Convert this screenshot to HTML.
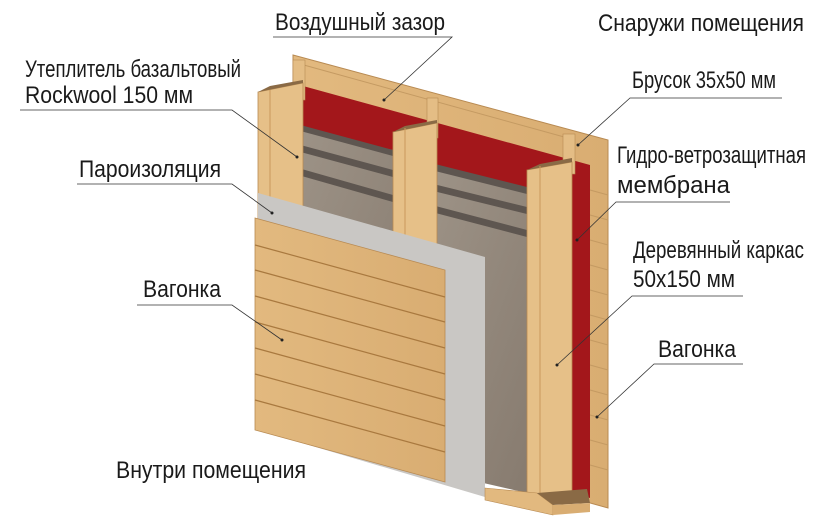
<!DOCTYPE html>
<html><head><meta charset="utf-8"><style>
html,body{margin:0;padding:0;background:#fff;}
svg{display:block;}
text{font-family:"Liberation Sans","DejaVu Sans",sans-serif;font-size:24px;fill:#1a1a1a;}
</style></head><body>
<svg width="830" height="519" viewBox="0 0 830 519" xmlns="http://www.w3.org/2000/svg">
<defs>
<linearGradient id="wood" x1="0" y1="0" x2="1" y2="0">
<stop offset="0" stop-color="#e2b97f"/><stop offset="1" stop-color="#d9ad72"/></linearGradient>
<linearGradient id="ins" x1="0" y1="0" x2="1" y2="1">
<stop offset="0" stop-color="#a0968a"/><stop offset="1" stop-color="#877b6f"/></linearGradient>
</defs>
<polygon points="293,55 608,140 608,508 293,420" fill="url(#wood)" stroke="#b88a52" stroke-width="1"/>
<g stroke="#c49a62" stroke-width="1">
<line x1="590" y1="190" x2="608" y2="195"/><line x1="590" y1="215" x2="608" y2="220"/>
<line x1="590" y1="240" x2="608" y2="245"/><line x1="590" y1="265" x2="608" y2="270"/>
<line x1="590" y1="290" x2="608" y2="295"/><line x1="590" y1="315" x2="608" y2="320"/>
<line x1="590" y1="340" x2="608" y2="345"/><line x1="590" y1="365" x2="608" y2="370"/>
<line x1="590" y1="390" x2="608" y2="395"/><line x1="590" y1="415" x2="608" y2="420"/>
<line x1="590" y1="440" x2="608" y2="445"/><line x1="590" y1="465" x2="608" y2="470"/>
</g>
<line x1="293" y1="62" x2="575" y2="140" stroke="#c49a62"/>
<polygon points="303,86 590,165 590,498 303,420" fill="#a3171b"/>
<rect x="293" y="60" width="12" height="40" fill="#e4bd85" stroke="#b88a52" stroke-width="0.6"/>
<rect x="427" y="98" width="11" height="40" fill="#e4bd85" stroke="#b88a52" stroke-width="0.6"/>
<rect x="563" y="134" width="12" height="40" fill="#e4bd85" stroke="#b88a52" stroke-width="0.6"/>
<polygon points="270,123 393,150 393,450 270,420" fill="url(#ins)"/>
<polygon points="293,123 393,150 393,156 293,129" fill="#5e5650"/>
<polygon points="282,140 393,170 393,177 282,147" fill="#5e5650"/>
<polygon points="270,160 393,195 393,202 270,167" fill="#5e5650"/>
<polygon points="405,160 527,188 527,493 405,465" fill="url(#ins)"/>
<polygon points="427,162 527,187 527,194 427,169" fill="#5e5650"/>
<polygon points="417,180 527,207 527,214 417,187" fill="#5e5650"/>
<polygon points="405,198 527,230 527,237 405,205" fill="#5e5650"/>
<polygon points="258,92 303,83 303,260 258,250" fill="#e6c088" stroke="#b88a52" stroke-width="0.8"/>
<polygon points="258,92 270,86 303,80 303,83" fill="#8a6a45"/>
<line x1="270" y1="90" x2="270" y2="255" stroke="#c9995c"/>
<polygon points="393,132 437,123 437,300 393,300" fill="#e6c088" stroke="#b88a52" stroke-width="0.8"/>
<polygon points="393,132 405,126 437,120 437,123" fill="#8a6a45"/>
<line x1="405" y1="128" x2="405" y2="300" stroke="#c9995c"/>
<polygon points="527,170 572,162 572,500 527,495" fill="#e6c088" stroke="#b88a52" stroke-width="0.8"/>
<polygon points="527,170 540,164 572,158 572,162" fill="#8a6a45"/>
<line x1="540" y1="166" x2="540" y2="497" stroke="#c9995c"/>
<polygon points="258,193 485,257 485,497 258,430" fill="#c9c7c4"/>
<polygon points="255,218 445,270 445,482 255,430" fill="url(#wood)" stroke="#b88a52" stroke-width="0.8"/>
<g stroke="#a9793f" stroke-width="1.2" fill="none">
<line x1="255" y1="245" x2="445" y2="297"/><line x1="255" y1="270" x2="445" y2="322"/>
<line x1="255" y1="296" x2="445" y2="348"/><line x1="255" y1="322" x2="445" y2="374"/>
<line x1="255" y1="348" x2="445" y2="400"/><line x1="255" y1="374" x2="445" y2="426"/>
<line x1="255" y1="400" x2="445" y2="452"/>
</g>
<polygon points="485,488 537,493 553,505 553,515 485,500" fill="#e2b97f" stroke="#b88a52" stroke-width="0.6"/>
<polygon points="537,493 587,489 590,503 553,505" fill="#8a6a45"/>
<polygon points="553,505 590,503 590,512 553,515" fill="#d9ad72"/>
<g stroke="#333" stroke-width="0.8" fill="none">
<polyline points="273,37 452,37 384,100"/>
<polyline points="20,110 232,110 297,157"/>
<polyline points="77,184 232,184 272,213"/>
<polyline points="137,305 232,305 282,340"/>
<polyline points="782,98 630,98 578,145"/>
<polyline points="730,202 616,202 577,240"/>
<polyline points="743,296 632,296 557,365"/>
<polyline points="743,364 654,364 597,417"/>
</g>
<g fill="#222"><circle cx="384" cy="100" r="1.5"/><circle cx="297" cy="157" r="1.5"/><circle cx="272" cy="213" r="1.5"/><circle cx="282" cy="340" r="1.5"/><circle cx="578" cy="145" r="1.5"/><circle cx="577" cy="240" r="1.5"/><circle cx="557" cy="365" r="1.5"/><circle cx="597" cy="417" r="1.5"/></g>
<text x="275" y="30" textLength="170" lengthAdjust="spacingAndGlyphs">Воздушный зазор</text>
<text x="598" y="31" textLength="206" lengthAdjust="spacingAndGlyphs">Снаружи помещения</text>
<text x="25" y="77" textLength="216" lengthAdjust="spacingAndGlyphs">Утеплитель базальтовый</text>
<text x="25" y="103" textLength="168" lengthAdjust="spacingAndGlyphs">Rockwool 150 мм</text>
<text x="632" y="88" textLength="144" lengthAdjust="spacingAndGlyphs">Брусок 35х50 мм</text>
<text x="79" y="177" textLength="142" lengthAdjust="spacingAndGlyphs">Пароизоляция</text>
<text x="617" y="163" textLength="189" lengthAdjust="spacingAndGlyphs">Гидро-ветрозащитная</text>
<text x="617" y="193" textLength="113" lengthAdjust="spacingAndGlyphs">мембрана</text>
<text x="633" y="258" textLength="171" lengthAdjust="spacingAndGlyphs">Деревянный каркас</text>
<text x="633" y="287" textLength="102" lengthAdjust="spacingAndGlyphs">50х150 мм</text>
<text x="143" y="297" textLength="78" lengthAdjust="spacingAndGlyphs">Вагонка</text>
<text x="658" y="357" textLength="78" lengthAdjust="spacingAndGlyphs">Вагонка</text>
<text x="116" y="478" textLength="190" lengthAdjust="spacingAndGlyphs">Внутри помещения</text>
</svg>
</body></html>
